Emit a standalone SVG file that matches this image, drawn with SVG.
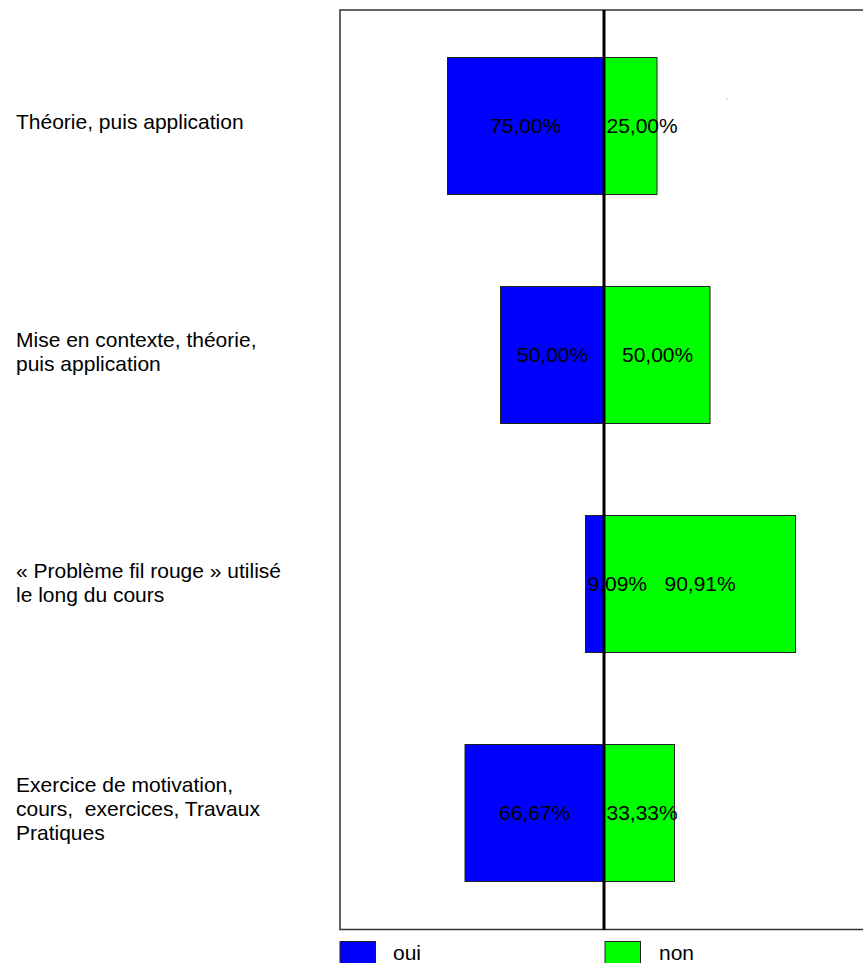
<svg xmlns="http://www.w3.org/2000/svg" width="863" height="963" viewBox="0 0 863 963">
<style>
text { font-family: "Liberation Sans", Arial, sans-serif; font-size: 21px; fill: #000; }
.oui { fill: #0000ff; stroke: #222; stroke-width: 1; }
.non { fill: #00ff00; stroke: #222; stroke-width: 1; }
.frame { fill: #fff; stroke: #333; stroke-width: 1.5; }
.axis { stroke: #000; stroke-width: 3; }
</style>
<rect x="0" y="0" width="863" height="963" fill="#fff"/>
<g id="frame">
<rect class="frame" x="340" y="10" width="600" height="919.5"/>
<rect x="726.5" y="98.5" width="1" height="1" fill="#888"/>
</g>
<g id="cat1">
<text x="16" y="129">Théorie, puis application</text>
<rect class="oui" x="447.5" y="57.5" width="156" height="137"/>
<rect class="non" x="603.5" y="57.5" width="53.5" height="137"/>
<text x="490" y="133">75,00%</text>
<text x="606.5" y="133">25,00%</text>
</g>
<g id="cat2">
<text x="16" y="347">Mise en contexte, théorie,</text>
<text x="16" y="371">puis application</text>
<rect class="oui" x="500.5" y="286.5" width="103" height="137"/>
<rect class="non" x="603.5" y="286.5" width="106.5" height="137"/>
<text x="517" y="362">50,00%</text>
<text x="622" y="362">50,00%</text>
</g>
<g id="cat3">
<text x="16" y="578">« Problème fil rouge » utilisé</text>
<text x="16" y="602">le long du cours</text>
<rect class="oui" x="585.5" y="515.5" width="18" height="137"/>
<rect class="non" x="603.5" y="515.5" width="192" height="137"/>
<text x="587.5" y="591">9,09%</text>
<text x="664.5" y="591">90,91%</text>
</g>
<g id="cat4">
<text x="16" y="792">Exercice de motivation,</text>
<text x="16" y="816" xml:space="preserve">cours,  exercices, Travaux</text>
<text x="16" y="840">Pratiques</text>
<rect class="oui" x="465" y="744.5" width="138.5" height="137"/>
<rect class="non" x="603.5" y="744.5" width="71" height="137"/>
<text x="499" y="820">66,67%</text>
<text x="606.5" y="820">33,33%</text>
</g>
<g id="connectors">
<line class="axis" x1="604" y1="10" x2="604" y2="930"/>
</g>
<g id="legend-oui">
<rect class="oui" x="340" y="941.5" width="35.5" height="30"/>
<text x="393" y="960">oui</text>
</g>
<g id="legend-non">
<rect class="non" x="605" y="941.5" width="35.5" height="30"/>
<text x="659" y="960">non</text>
</g>
</svg>
